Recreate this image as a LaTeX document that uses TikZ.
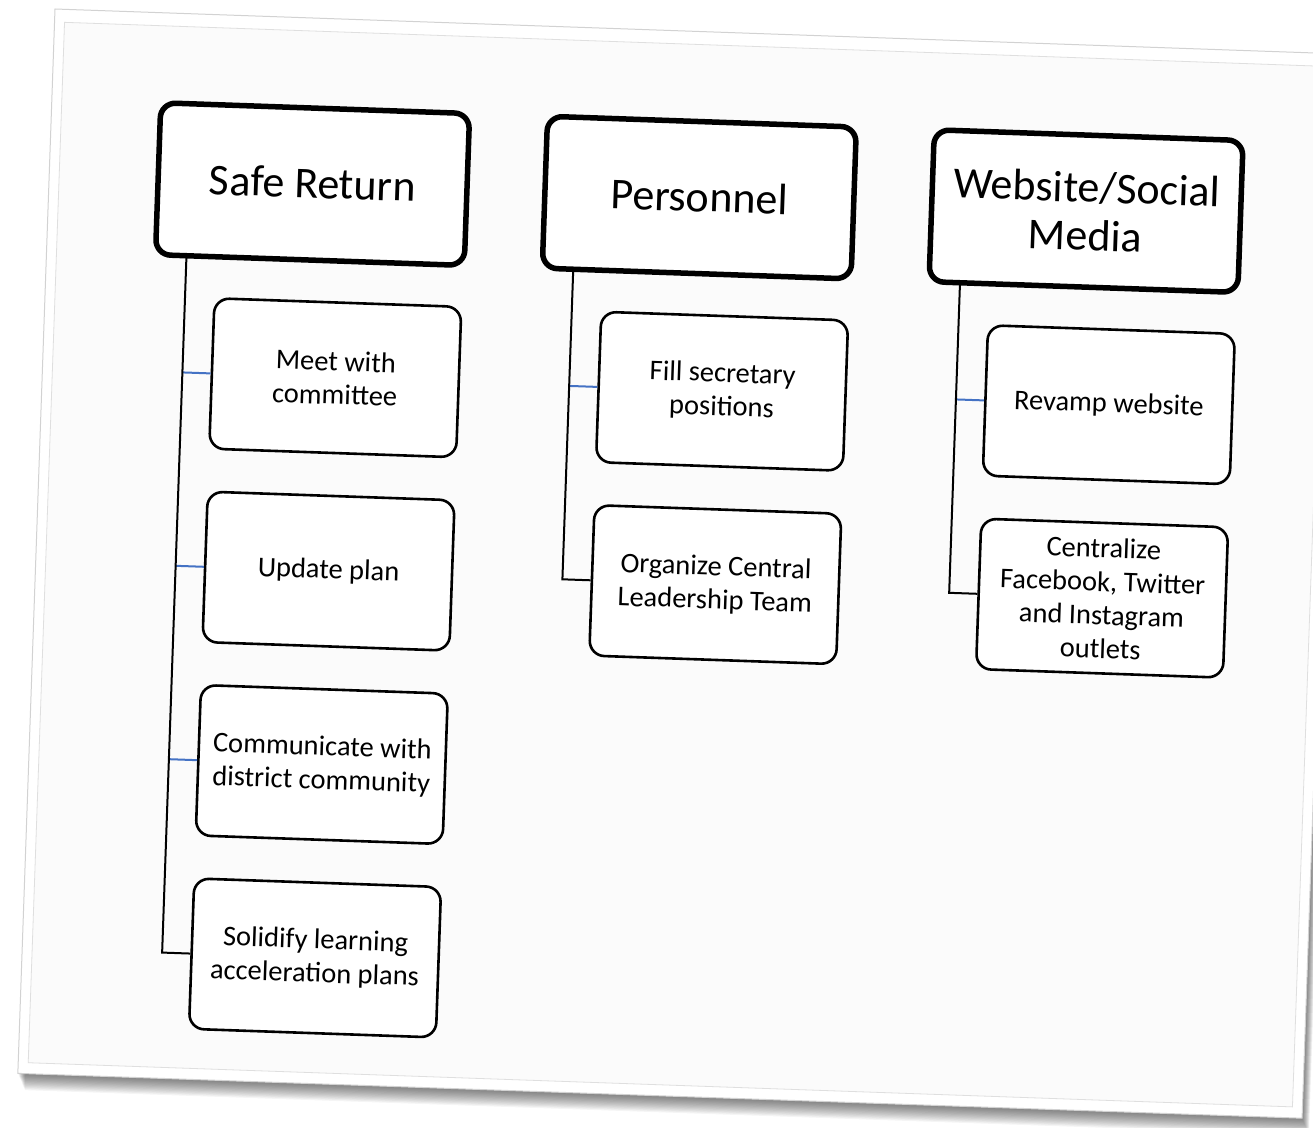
\documentclass[tikz,border=0pt]{standalone}
\usepackage{fontspec}
\setmainfont{Carlito}
\definecolor{stubblue}{HTML}{4472C4}
\definecolor{paperin}{HTML}{FBFBFB}
\begin{document}
\begin{tikzpicture}[x=1pt,y=-1pt,
  hdr/.style={draw=black, line width=5.5pt, rounded corners=15pt, minimum width=309pt, minimum height=152pt, inner sep=0pt, align=center, font=\fontsize{44}{48}\selectfont, fill=white},
  item/.style={draw=black, line width=2.6pt, rounded corners=15pt, minimum width=247pt, minimum height=150.5pt, inner sep=0pt, align=center, font=\fontsize{28.5}{33.5}\selectfont, fill=white},
  trunk/.style={draw=black, line width=2pt},
  stub/.style={draw=stubblue, line width=2pt},
]
\useasboundingbox (0,0) rectangle (1313,1127);
\fill[white] (0,0) rectangle (1313,1127);
\clip (0,0) rectangle (1313,1127);
\begin{scope}[shift={(55,9)}, rotate=-2, every node/.append style={transform shape}]
  % shadow
  \foreach \k in {1,...,15}{
    \fill[black, opacity=0.04] ({\k*0.5},{\k*1.1}) rectangle ({1285+\k*0.5},{1065+\k*1.1});
  }
  % paper
  \fill[white] (0,0) rectangle (1285,1065);
  \draw[gray!35, line width=1pt] (0,0) rectangle (1285,1065);
  \filldraw[fill=paperin, draw=gray!25, line width=0.8pt] (10,13) rectangle (1275,1054);

  % headers
  \node[hdr, text depth=0.25em] (h1) at (263.5,166) {Safe Return};
  \node[hdr, text depth=0.25em] (h2) at (650.5,166) {Personnel};
  \node[hdr] (h3) at (1037.5,166) {Website/Social\\Media};

  % column 1 items
  \node[item] (c11) at (293,358.75) {Meet with\\committee};
  \node[item] (c12) at (293,552.25) {Update plan};
  \node[item] (c13) at (293,745.75) {Communicate with\\district community};
  \node[item] (c14) at (293,939.25) {Solidify learning\\acceleration plans};
  % column 2 items
  \node[item] (c21) at (680,358.75) {Fill secretary\\positions};
  \node[item] (c22) at (680,552.25) {Organize Central\\Leadership Team};
  % column 3 items
  \node[item] (c31) at (1067,358.75) {Revamp website};
  \node[item] (c32) at (1067,552.25) {Centralize\\Facebook, Twitter\\and Instagram\\outlets};

  % connector points
  \coordinate (t1) at (140,244);
  \coordinate (s11) at (140,358.75);
  \coordinate (s12) at (140,552.25);
  \coordinate (s13) at (140,745.75);
  \coordinate (b1) at (140,939.25);
  \coordinate (t2) at (527,244);
  \coordinate (s21) at (527,358.75);
  \coordinate (b2) at (527,552.25);
  \coordinate (t3) at (914,244);
  \coordinate (s31) at (914,358.75);
  \coordinate (b3) at (914,552.25);

  % blue stubs
  \draw[stub] (s11) -- (c11.west);
  \draw[stub] (s12) -- (c12.west);
  \draw[stub] (s13) -- (c13.west);
  \draw[stub] (s21) -- (c21.west);
  \draw[stub] (s31) -- (c31.west);

  % trunks with elbow to last item
  \draw[trunk] (t1) -- (b1) -- (c14.west);
  \draw[trunk] (t2) -- (b2) -- (c22.west);
  \draw[trunk] (t3) -- (b3) -- (c32.west);
\end{scope}
\end{tikzpicture}
\end{document}
